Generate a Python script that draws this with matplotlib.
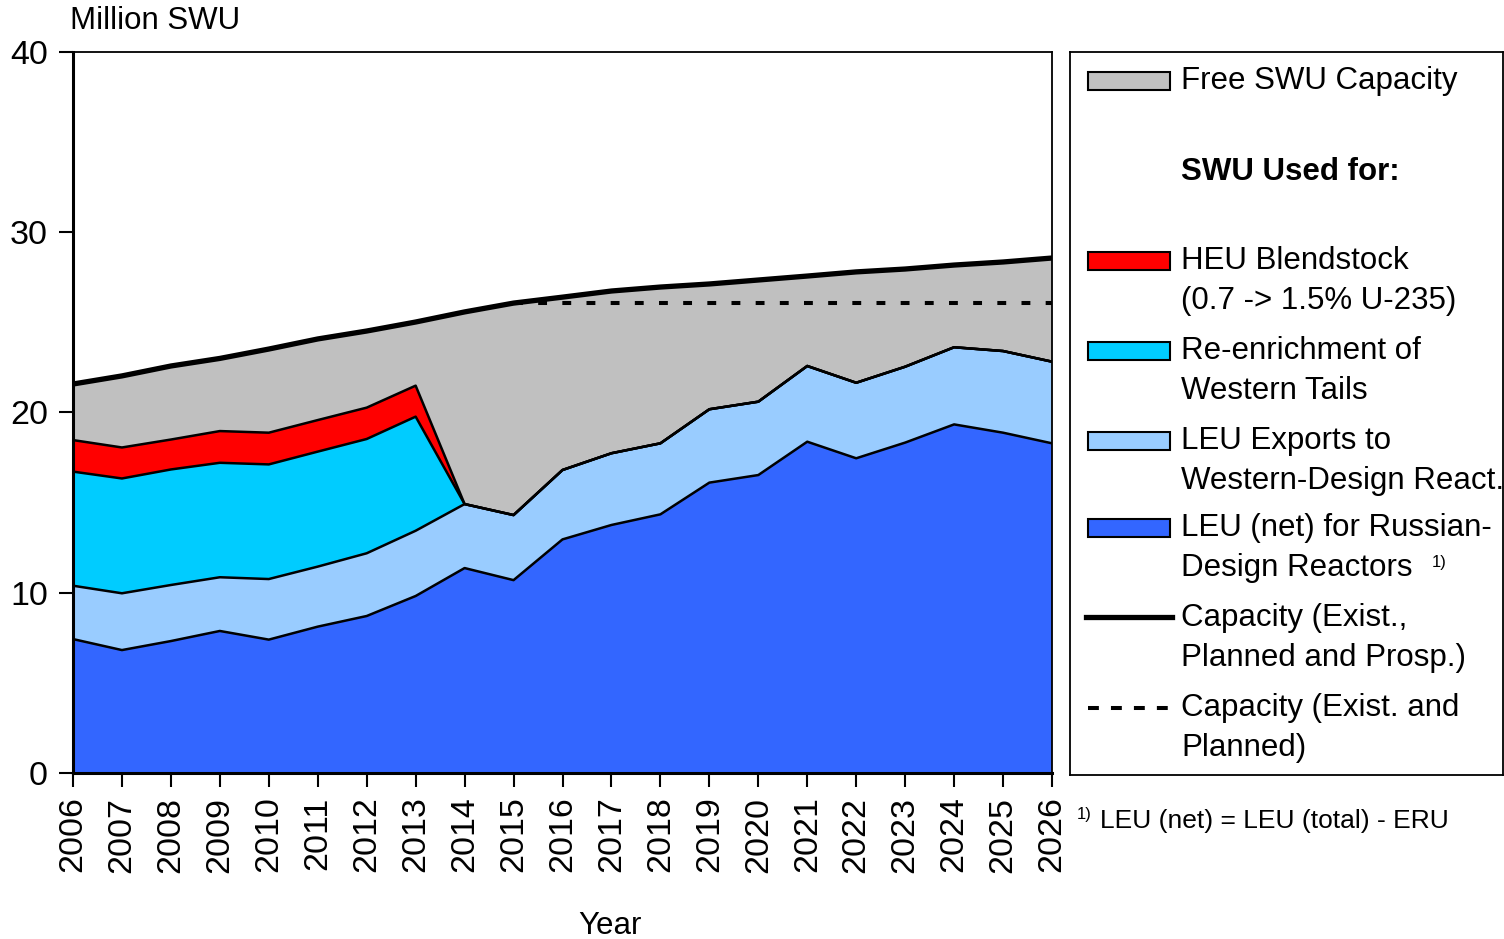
import matplotlib.pyplot as plt
from matplotlib.patches import Rectangle
from matplotlib.lines import Line2D
import numpy as np

plt.rcParams['font.family'] = ['Liberation Sans', 'DejaVu Sans']

years = list(range(2006, 2027))

# Million SWU per year
leu_russian = [7.43, 6.82, 7.32, 7.88, 7.40, 8.12, 8.71, 9.82, 11.37, 10.70, 12.96,
               13.76, 14.35, 16.11, 16.53, 18.38, 17.46, 18.33, 19.34, 18.88, 18.29]
leu_exports = [2.96, 3.15, 3.11, 2.98, 3.36, 3.33, 3.48, 3.62, 3.55, 3.61, 3.85,
               3.98, 3.94, 4.07, 4.07, 4.20, 4.19, 4.21, 4.28, 4.53, 4.53]
reenrichment = [6.33, 6.37, 6.41, 6.35, 6.36, 6.38, 6.34, 6.33, 0, 0, 0,
                0, 0, 0, 0, 0, 0, 0, 0, 0, 0]
heu_blend = [1.75, 1.72, 1.66, 1.76, 1.76, 1.75, 1.74, 1.72, 0, 0, 0,
             0, 0, 0, 0, 0, 0, 0, 0, 0, 0]
capacity_all = [21.58, 22.03, 22.58, 23.00, 23.52, 24.08, 24.52, 25.02, 25.58, 26.07, 26.40,
                26.74, 26.96, 27.13, 27.35, 27.57, 27.80, 27.96, 28.18, 28.35, 28.57]
years_planned = list(range(2015, 2027))
capacity_planned = [26.1] * len(years_planned)

colors = {'free': '#C0C0C0', 'heu': '#FF0000', 'reen': '#00CCFF',
          'exp': '#99CCFF', 'rus': '#3366FF'}

fig = plt.figure(figsize=(15.04, 9.39), dpi=100)
ax = fig.add_axes([73/1504, 1-773/939, (1052-73)/1504, (773-52)/939])

x = np.array(years)
layers = [leu_russian, leu_exports, reenrichment, heu_blend]
layer_cols = [colors['rus'], colors['exp'], colors['reen'], colors['heu']]
base = np.zeros(len(years))
for vals, c in zip(layers, layer_cols):
    top = base + np.array(vals)
    ax.fill_between(x, base, top, facecolor=c, edgecolor='none', zorder=2)
    base = top
ax.fill_between(x, base, capacity_all, facecolor=colors['free'], edgecolor='none', zorder=1)

# boundary lines of the stack
base = np.zeros(len(years))
for vals in layers:
    base = base + np.array(vals)
    ax.plot(x, base, color='black', lw=1.8, zorder=3)

ax.plot(years, capacity_all, color='black', lw=3.8, zorder=5, solid_capstyle='round')
ax.plot(years_planned, capacity_planned, color='black', lw=2.9,
        linestyle=(0, (2.2, 3.8)), zorder=4)

ax.set_xlim(2006, 2026)
ax.set_ylim(0, 40)
ax.set_yticks([0, 10, 20, 30, 40])
ax.set_xticks(years)
ax.set_xticklabels([str(y) for y in years], rotation=90, fontsize=24.5)
ax.tick_params(axis='y', labelsize=24.5, length=10, width=1.5, direction='out', pad=8)
ax.tick_params(axis='x', length=10, width=1.5, direction='out', pad=7)
for s in ['left', 'bottom']:
    ax.spines[s].set_linewidth(2.2)
for s in ['top', 'right']:
    ax.spines[s].set_linewidth(1.3)

fig.text(70/1504, 1-21/939, 'Million SWU', fontsize=22.5, va='center', ha='left')
fig.text(610/1504, 1-926/939, 'Year', fontsize=22.5, va='center', ha='center')

# footnote
fig.text(1077/1504, 1-815/939, '1)', fontsize=12, va='center', ha='left')
fig.text(1100/1504, 1-821/939, 'LEU (net) = LEU (total) - ERU', fontsize=19,
         va='center', ha='left')

# legend panel
lg = fig.add_axes([1070/1504, 1-775/939, 433/1504, 723/939])
lg.set_xlim(0, 433)
lg.set_ylim(775, 52)
lg.set_xticks([])
lg.set_yticks([])
for s in lg.spines.values():
    s.set_linewidth(1.3)

tx = 111
fs = 22.5
patch_entries = [(81, colors['free'], ['Free SWU Capacity']),
                 (261, colors['heu'], ['HEU Blendstock', '(0.7 -> 1.5% U-235)']),
                 (351, colors['reen'], ['Re-enrichment of', 'Western Tails']),
                 (441, colors['exp'], ['LEU Exports to', 'Western-Design React.']),
                 (528, colors['rus'], ['LEU (net) for Russian-', 'Design Reactors'])]
for yc, c, lines in patch_entries:
    lg.add_patch(Rectangle((18, yc - 9), 82, 18, facecolor=c, edgecolor='black', lw=1.5))
    for i, t in enumerate(lines):
        lg.text(tx, yc + i * 40, t, fontsize=fs, va='center', ha='left')
lg.text(tx, 172, 'SWU Used for:', fontsize=fs, fontweight='bold', va='center', ha='left')
lg.text(362, 563, '1)', fontsize=12, va='center', ha='left')

lg.add_line(Line2D([16, 102], [617, 617], color='black', lw=3.8))
lg.text(tx, 618, 'Capacity (Exist.,', fontsize=fs, va='center', ha='left')
lg.text(tx, 658, 'Planned and Prosp.)', fontsize=fs, va='center', ha='left')
lg.add_line(Line2D([18, 100], [708, 708], color='black', lw=2.9, linestyle=(0, (2.7, 3.0))))
lg.text(tx, 708, 'Capacity (Exist. and', fontsize=fs, va='center', ha='left')
lg.text(tx, 748, 'Planned)', fontsize=fs, va='center', ha='left')

fig.savefig('out.png', dpi=100)
